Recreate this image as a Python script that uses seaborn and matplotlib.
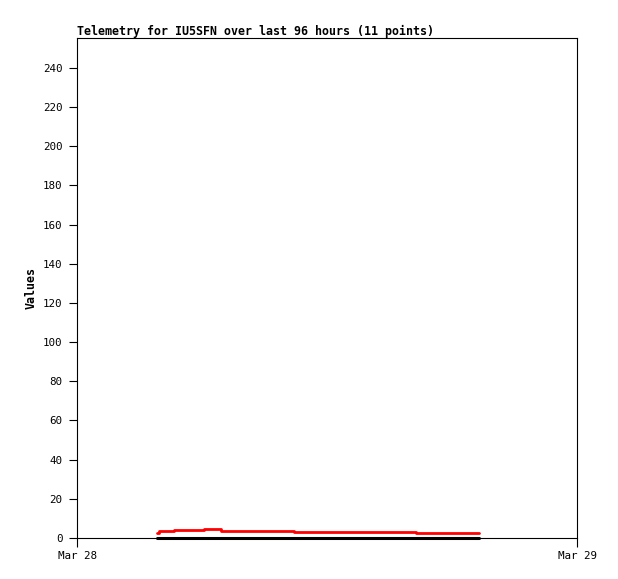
import pandas as pd
import seaborn as sns
import matplotlib.pyplot as plt
import matplotlib.dates as mdates

times = [
    "2024-03-28 03:51",
    "2024-03-28 03:55",
    "2024-03-28 04:40",
    "2024-03-28 06:07",
    "2024-03-28 06:54",
    "2024-03-28 10:25",
    "2024-03-28 16:16",
    "2024-03-28 19:17",
]
red_values = [2.7, 3.6, 4.1, 4.75, 3.7, 3.2, 2.7, 2.7]
black_values = [0, 0, 0, 0, 0, 0, 0, 0]

title = "Telemetry for IU5SFN over last 96 hours (11 points)"
x_start = "2024-03-28"
x_end = "2024-03-29"

d = pd.DataFrame(
    {
        "time": pd.to_datetime(times),
        "red": red_values,
        "black": black_values,
    }
)

sns.set_style("white")
plt.rcParams["font.family"] = ["DejaVu Sans Mono", "DejaVu Sans"]
plt.rcParams["text.color"] = "black"
plt.rcParams["axes.labelcolor"] = "black"

fig = plt.figure(figsize=(6.18, 5.79), dpi=100)
ax = fig.add_axes([77 / 618, 41 / 579, 500 / 618, 500 / 579])

sns.lineplot(
    data=d,
    x="time",
    y="black",
    ax=ax,
    color="black",
    linewidth=2.2,
    drawstyle="steps-post",
    estimator=None,
    clip_on=False,
    zorder=5,
)
sns.lineplot(
    data=d,
    x="time",
    y="red",
    ax=ax,
    color="#ff0000",
    linewidth=2.0,
    drawstyle="steps-post",
    estimator=None,
    zorder=6,
)

ax.set_xlim(pd.Timestamp(x_start), pd.Timestamp(x_end))
ax.set_ylim(0, 255.3)
ax.set_yticks(range(0, 241, 20))
ax.set_xticks([pd.Timestamp(x_start), pd.Timestamp(x_end)])
ax.xaxis.set_major_formatter(mdates.DateFormatter("%b %d"))

for s in ax.spines.values():
    s.set_color("black")
    s.set_linewidth(0.8)

ax.tick_params(axis="y", direction="out", length=5.5, width=0.8, colors="black",
               labelsize=7.8, pad=5, left=True)
ax.tick_params(axis="x", direction="out", length=6.5, width=0.8, colors="black",
               labelsize=7.8, pad=3, bottom=True)

ax.set_xlabel("")
ax.set_ylabel("Values", fontsize=8.4, fontweight="bold", labelpad=3.5, color="black")
ax.set_title(title, loc="left", fontsize=8.4, fontweight="bold", pad=2, color="black")

fig.savefig("out.png", dpi=100)
